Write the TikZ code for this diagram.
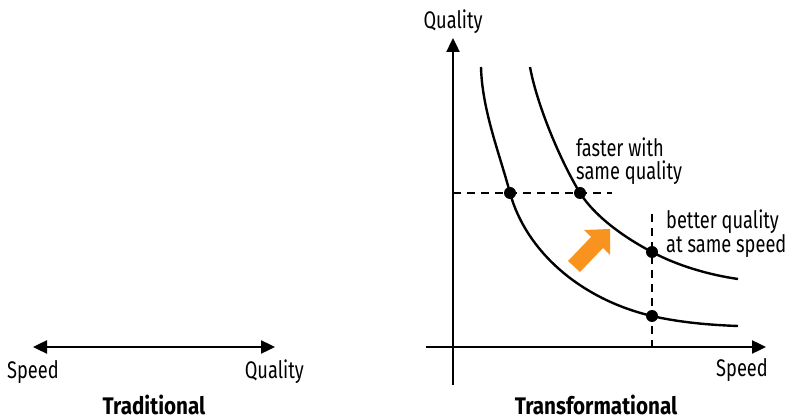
\documentclass[tikz,border=0pt]{standalone}
\usepackage{fontspec}
\setmainfont{Fira Sans}[FakeStretch=0.76,BoldFeatures={FakeStretch=0.86}]
\usetikzlibrary{arrows.meta}
\definecolor{arroworange}{HTML}{F7931E}
\begin{document}
\begin{tikzpicture}[x=1pt,y=-1pt,
  line/.style={line width=2.4pt},
  axis/.style={line width=2.4pt,-{Triangle[length=14pt,width=13pt]}},
  dashline/.style={line width=2.2pt,dash pattern=on 8pt off 6pt},
  dot/.style={circle,fill=black,inner sep=0pt,minimum size=12pt},
  lbl/.style={font=\fontsize{24}{23}\selectfont,inner sep=0pt},
  ttl/.style={font=\fontsize{24}{23}\selectfont\bfseries,inner sep=0pt}]
\useasboundingbox (0,0) rectangle (787,419);
% Traditional
\coordinate (tl) at (33,347);
\coordinate (tr) at (275,347);
\draw[line,{Triangle[length=14pt,width=13pt]}-{Triangle[length=14pt,width=13pt]}] (tl) -- (tr);
\node[lbl,anchor=base west] (sp1) at (7,378) {Speed};
\node[lbl,anchor=base east] (q1) at (304,378) {Quality};
\node[ttl,anchor=base] (trad) at (154,414) {Traditional};
% Transformational axes
\coordinate (yb) at (453,385);
\coordinate (yt) at (453,38);
\coordinate (xl) at (426,347);
\coordinate (xr) at (766,347);
\draw[axis] (yb) -- (yt);
\draw[axis] (xl) -- (xr);
\node[lbl,anchor=base] (qy) at (453,29) {Quality};
\node[lbl,anchor=base east] (sx) at (768,377) {Speed};
\node[ttl,anchor=base] (trans) at (596,414) {Transformational};
% dots
\coordinate (a) at (510,193);
\coordinate (b) at (580,193);
\coordinate (c) at (652,252);
\coordinate (d) at (652,316);
\coordinate (i0) at (481,67);
\coordinate (i1) at (738,326);
\coordinate (o0) at (530,67);
\coordinate (o1) at (738,279);
% curves
\draw[line] (i0) .. controls (482,110) and (500,155) .. (a)
  .. controls (526,251) and (580,299) .. (d)
  .. controls (680,322.5) and (710,325) .. (i1);
\draw[line] (o0) .. controls (537,105) and (560,160) .. (b)
  .. controls (596,218) and (627,239) .. (c)
  .. controls (678,266) and (710,275) .. (o1);
\node[dot] (da) at (a) {};
\node[dot] (db) at (b) {};
\node[dot] (dc) at (c) {};
\node[dot] (dd) at (d) {};
\coordinate (hl) at (453,193);
\coordinate (hr) at (612,193);
\coordinate (vt) at (652,214);
\coordinate (vb) at (652,347);
\draw[dashline] (hl) -- (hr);
\draw[dashline] (vt) -- (vb);
% labels
\node[lbl,anchor=base west,align=left] (fast) at (576,180) {faster with\\same quality};
\node[lbl,anchor=base west,align=left] (better) at (666,253) {better quality\\at same speed};
% orange arrow
\fill[arroworange] (568,261) -- (591,237) -- (584,230) -- (610,229) -- (610,255) -- (603,248) -- (580,272) -- cycle;
\end{tikzpicture}
\end{document}
